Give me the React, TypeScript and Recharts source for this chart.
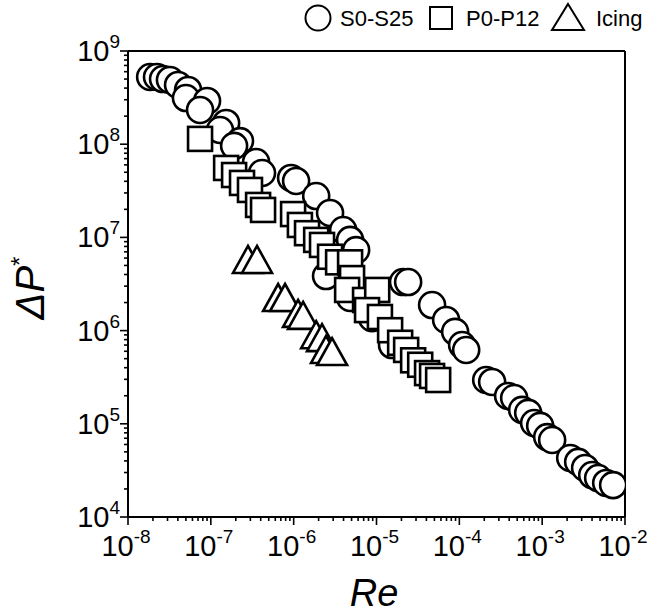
import React from 'react';
import { ScatterChart, Scatter, XAxis, YAxis, ReferenceLine } from 'recharts';

// S0-S25 (circles)
const sRe = [1.85e-8, 2.24e-8, 2.65e-8, 3.21e-8, 4.02e-8, 5.31e-8, 5.01e-8, 9.0e-8, 7.41e-8, 1.53e-7, 1.29e-7, 2.25e-7, 1.91e-7, 3.52e-7, 4.15e-7, 9.31e-7, 1.07e-6, 1.87e-6, 2.75e-6, 3.96e-6, 4.8e-6, 5.68e-6, 2.46e-6, 4.8e-6, 8.85e-6, 1.54e-5, 2.09e-5, 2.41e-5, 4.69e-5, 6.93e-5, 8.9e-5, 1.08e-4, 1.21e-4, 2.11e-4, 2.49e-4, 3.88e-4, 4.59e-4, 5.73e-4, 6.78e-4, 8.0e-4, 9.46e-4, 1.15e-3, 1.32e-3, 2.18e-3, 2.72e-3, 3.3e-3, 4.02e-3, 4.74e-3, 5.93e-3, 7.19e-3];
const sDp = [5.26e8, 5.26e8, 5.0e8, 4.89e8, 4.32e8, 3.82e8, 3.13e8, 2.91e8, 2.33e8, 1.69e8, 1.42e8, 1.08e8, 9.6e7, 6.44e7, 4.91e7, 4.34e7, 4.03e7, 2.78e7, 1.83e7, 1.2e7, 9.4e6, 7.3e6, 3.85e6, 2.24e6, 1.36e6, 7.0e5, 3.32e6, 3.32e6, 1.88e6, 1.3e6, 9.7e5, 7.0e5, 6.2e5, 2.95e5, 2.81e5, 1.99e5, 1.89e5, 1.41e5, 1.31e5, 1.02e5, 9.5e4, 7.2e4, 6.7e4, 4.3e4, 3.9e4, 3.36e4, 2.82e4, 2.62e4, 2.32e4, 2.2e4];

// P0-P12 (squares)
const pRe = [7.41e-8, 1.53e-7, 1.91e-7, 2.38e-7, 2.97e-7, 3.72e-7, 4.27e-7, 9.84e-7, 1.19e-6, 1.45e-6, 1.87e-6, 2.2e-6, 2.75e-6, 3.44e-6, 4.8e-6, 5.07e-6, 4.42e-6, 7.28e-6, 1.02e-5, 7.69e-6, 1.1e-5, 1.46e-5, 1.93e-5, 2.28e-5, 2.77e-5, 3.37e-5, 4.08e-5, 4.69e-5, 5.55e-5];
const pDp = [1.14e8, 5.56e7, 4.67e7, 3.84e7, 3.23e7, 2.23e7, 1.97e7, 1.78e7, 1.36e7, 1.11e7, 9.4e6, 8.3e6, 6.2e6, 5.4e6, 5.4e6, 3.66e6, 2.73e6, 2.13e6, 2.73e6, 1.66e6, 1.4e6, 1.01e6, 7.4e5, 6.2e5, 4.8e5, 4.3e5, 3.5e5, 3.26e5, 2.95e5];

// Icing (triangles)
const iRe = [2.81e-7, 3.61e-7, 6.49e-7, 7.87e-7, 1.13e-6, 1.3e-6, 1.87e-6, 2.2e-6, 2.46e-6, 2.91e-6];
const iDp = [5.45e6, 5.45e6, 2.13e6, 2.13e6, 1.44e6, 1.37e6, 8.5e5, 7.9e5, 5.9e5, 5.6e5];

const xMajor = [1e-8, 1e-7, 1e-6, 1e-5, 1e-4, 1e-3, 1e-2];
const yMajor = [1e4, 1e5, 1e6, 1e7, 1e8, 1e9];
const minorMult = [2, 3, 4, 5, 6, 7, 8, 9];

const sData = sRe.map((x, i) => ({ x, y: sDp[i] }));
const pData = pRe.map((x, i) => ({ x, y: pDp[i] }));
const iData = iRe.map((x, i) => ({ x, y: iDp[i] }));

const withMinors = (majors: number[]) => {
  const out: number[] = [];
  majors.forEach((m, k) => {
    out.push(m);
    if (k < majors.length - 1) minorMult.forEach((f) => out.push(m * f));
  });
  return out;
};
const xTicks = withMinors(xMajor);
const yTicks = withMinors(yMajor);

const FONT = '"Liberation Sans", Arial, Helvetica, sans-serif';
const isMajor = (v: number) => {
  const l = Math.log10(v);
  return Math.abs(l - Math.round(l)) < 1e-6;
};

const XTick = (props: any) => {
  const { x, y, payload } = props;
  const v = payload.value;
  const major = isMajor(v);
  const e = Math.round(Math.log10(v));
  return (
    <g>
      <line x1={x} x2={x} y1={y} y2={y + (major ? 8 : 4)} stroke="#000" strokeWidth={1.6} />
      {major && (
        <text x={x - 2} y={y + 39} textAnchor="middle" fontFamily={FONT} fontSize={29} fill="#000">
          10<tspan dy={-13} fontSize={19}>{e}</tspan>
        </text>
      )}
    </g>
  );
};

const YTick = (props: any) => {
  const { x, y, payload } = props;
  const v = payload.value;
  const major = isMajor(v);
  const e = Math.round(Math.log10(v));
  return (
    <g>
      <line x1={x} x2={x - (major ? 8 : 4)} y1={y} y2={y} stroke="#000" strokeWidth={1.6} />
      {major && (
        <text x={x - 8} y={y + 10} textAnchor="end" fontFamily={FONT} fontSize={29} fill="#000">
          10<tspan dy={-13} fontSize={19}>{e}</tspan>
        </text>
      )}
    </g>
  );
};

const SW = 2.6;
const CircleShape = (p: any) => <circle cx={p.cx} cy={p.cy} r={13} fill="#fff" stroke="#000" strokeWidth={SW} />;
const SquareShape = (p: any) => <rect x={p.cx - 12} y={p.cy - 12} width={24} height={24} fill="#fff" stroke="#000" strokeWidth={SW} />;
const TriShape = (p: any) => (
  <path d={`M${p.cx},${p.cy - 16} L${p.cx + 15},${p.cy + 11} L${p.cx - 15},${p.cy + 11} Z`} fill="#fff" stroke="#000" strokeWidth={SW} strokeLinejoin="miter" />
);

export default function App() {
  return (
    <div style={{ position: 'absolute', left: 0, top: 0, width: 647, height: 616, background: '#fff' }}>
      <style>{`body{margin:0;}`}</style>
      <ScatterChart width={647} height={616} margin={{ top: 51, right: 22, bottom: 39, left: 0 }}>
        <XAxis
          dataKey="x"
          type="number"
          scale="log"
          domain={[1e-8, 1e-2]}
          allowDataOverflow
          ticks={xTicks}
          interval={0}
          tickSize={0}
          tickMargin={0}
          tick={<XTick />}
          axisLine={{ stroke: '#000', strokeWidth: 2 }}
          height={60}
        />
        <YAxis
          dataKey="y"
          type="number"
          scale="log"
          domain={[1e4, 1e9]}
          allowDataOverflow
          ticks={yTicks}
          interval={0}
          tickSize={0}
          tickMargin={0}
          tick={<YTick />}
          axisLine={{ stroke: '#000', strokeWidth: 2 }}
          width={128}
        />
        <ReferenceLine y={1e9} stroke="#000" strokeWidth={2} />
        <ReferenceLine x={1e-2} stroke="#000" strokeWidth={2} />
        <Scatter data={sData} shape={CircleShape} isAnimationActive={false} />
        <Scatter data={pData} shape={SquareShape} isAnimationActive={false} />
        <Scatter data={iData} shape={TriShape} isAnimationActive={false} />
      </ScatterChart>
      <svg width={647} height={616} style={{ position: 'absolute', left: 0, top: 0, pointerEvents: 'none' }}>
        <g fontFamily={FONT} fontSize={22} fill="#000">
          <circle cx={318} cy={18} r={12.5} fill="#fff" stroke="#000" strokeWidth={2} />
          <text x={340} y={26}>S0-S25</text>
          <rect x={430} y={7} width={22} height={22} fill="#fff" stroke="#000" strokeWidth={2} />
          <text x={466} y={26}>P0-P12</text>
          <path d="M568,4 L584,30 L552,30 Z" fill="#fff" stroke="#000" strokeWidth={2} />
          <text x={596} y={26}>Icing</text>
        </g>
        <text x={374} y={606} textAnchor="middle" fontFamily={FONT} fontSize={38} fontStyle="italic" fill="#000">Re</text>
        <text transform="translate(44,288) rotate(-90)" textAnchor="middle" fontFamily={FONT} fontSize={40} fontStyle="italic" fill="#000">
          ΔP<tspan dy={-16} fontSize={24} fontStyle="normal">*</tspan>
        </text>
      </svg>
    </div>
  );
}
